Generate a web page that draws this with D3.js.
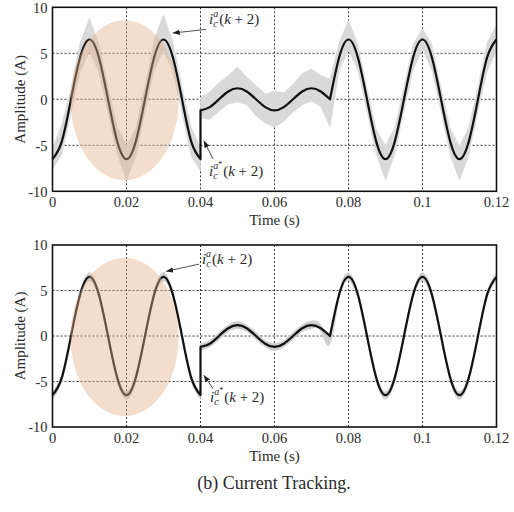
<!DOCTYPE html>
<html>
<head>
<meta charset="utf-8">
<script src="https://cdn.jsdelivr.net/npm/d3@7"></script>
<style>
  body { margin: 0; background: #fff; }
  svg text { font-family: "Liberation Serif", "DejaVu Serif", serif; fill: #2a2a2a; }
</style>
</head>
<body>
<div id="wrapper"></div>
<script>
// ---- data ----
const timeTicks = [0, 0.02, 0.04, 0.06, 0.08, 0.1, 0.12]
const timeTickLabels = ["0", "0.02", "0.04", "0.06", "0.08", "0.1", "0.12"]
const ampTicks = [-10, -5, 0, 5, 10]

// reference current i_c^{a*}(k+2), three pieces (step changes at 0.04 and 0.075 s)
const segTime1 = [0, 0.0025, 0.005, 0.0075, 0.01, 0.0125, 0.015, 0.0175, 0.02, 0.0225, 0.025, 0.0275, 0.03, 0.0325, 0.035, 0.0375, 0.04]
const segRef1 = [-6.5, -4.6, 0, 4.6, 6.5, 4.6, 0, -4.6, -6.5, -4.6, 0, 4.6, 6.5, 4.6, 0, -4.6, -6.5]
const segTime2 = [0.04, 0.0425, 0.045, 0.0475, 0.05, 0.0525, 0.055, 0.0575, 0.06, 0.0625, 0.065, 0.0675, 0.07, 0.0725, 0.075]
const segRef2 = [-1.2, -0.85, 0, 0.85, 1.2, 0.85, 0, -0.85, -1.2, -0.85, 0, 0.85, 1.2, 0.85, 0]
const segTime3 = [0.075, 0.0775, 0.08, 0.0825, 0.085, 0.0875, 0.09, 0.0925, 0.095, 0.0975, 0.1, 0.1025, 0.105, 0.1075, 0.11, 0.1125, 0.115, 0.1175, 0.12]
const segRef3 = [0, 4.6, 6.5, 4.6, 0, -4.6, -6.5, -4.6, 0, 4.6, 6.5, 4.6, 0, -4.6, -6.5, -4.6, 0, 4.6, 6.5]

// measured current i_c^a(k+2): envelope of the grey trace (0.04 appears twice: the step)
const measTime = [0, 0.0025, 0.005, 0.0075, 0.01, 0.0125, 0.015, 0.0175, 0.02, 0.0225, 0.025, 0.0275, 0.03, 0.0325, 0.035, 0.0375, 0.04,
  0.04, 0.0425, 0.045, 0.0475, 0.05, 0.0525, 0.055, 0.0575, 0.06, 0.0625, 0.065, 0.0675, 0.07, 0.0725, 0.075,
  0.0775, 0.08, 0.0825, 0.085, 0.0875, 0.09, 0.0925, 0.095, 0.0975, 0.1, 0.1025, 0.105, 0.1075, 0.11, 0.1125, 0.115, 0.1175, 0.12]
const measHiTop = [-5.3, -2.8, 1.2, 6.2, 8.8, 6.0, 1.3, -3.0, -5.0, -3.2, 1.4, 6.5, 9.2, 6.3, 1.4, -3.1, -5.2,
  0.2, 0.8, 1.8, 2.6, 3.5, 2.4, 1.5, 0.6, 0.9, 0.7, 1.6, 2.8, 3.3, 2.6, 2.2,
  6.2, 8.6, 6.0, 1.2, -3.3, -5.0, -3.1, 1.3, 6.0, 7.7, 6.0, 1.3, -3.2, -5.1, -3.0, 1.4, 6.2, 8.0]
const measLoTop = [-7.6, -6.0, -1.5, 3.0, 5.2, 3.0, -1.4, -6.0, -8.8, -6.2, -1.3, 3.2, 5.3, 3.1, -1.5, -6.2, -7.8,
  -2.0, -2.2, -1.3, -0.5, -0.3, -0.6, -1.8, -2.6, -3.0, -2.4, -1.4, -0.6, -0.2, -0.8, -3.0,
  3.2, 5.3, 3.2, -1.3, -6.0, -8.8, -6.0, -1.2, 3.3, 5.4, 3.2, -1.3, -6.1, -8.8, -6.1, -1.3, 3.1, 5.2]
const measHiBot = [-6.1, -4.2, 0.35, 4.95, 6.95, 4.95, 0.35, -4.2, -6.1, -4.2, 0.35, 4.95, 7.0, 4.95, 0.35, -4.25, -6.1,
  -0.8, -0.5, 0.4, 1.2, 1.6, 1.2, 0.4, -0.5, -0.8, -0.5, 0.4, 1.25, 1.65, 1.25, 0.45,
  4.95, 6.95, 4.95, 0.35, -4.2, -6.1, -4.2, 0.35, 4.95, 6.95, 4.95, 0.35, -4.2, -6.1, -4.2, 0.35, 4.95, 6.95]
const measLoBot = [-6.9, -5.0, -0.35, 4.2, 6.05, 4.2, -0.35, -5.0, -6.95, -5.0, -0.35, 4.2, 6.05, 4.2, -0.35, -5.0, -6.9,
  -1.6, -1.2, -0.4, 0.5, 0.8, 0.5, -0.4, -1.2, -1.6, -1.2, -0.4, 0.5, 0.8, 0.5, -0.9,
  4.2, 6.05, 4.2, -0.35, -5.0, -6.95, -5.0, -0.35, 4.2, 6.05, 4.2, -0.35, -5.0, -6.95, -5.0, -0.35, 4.2, 6.05]

// highlighted ellipse and annotation anchors (data units)
const ellipseCenter = [0.0195, -0.1]
const ellipseRadius = [0.0146, 8.7]
const labelMeasTop = { text: [0.0423, 8.2], from: [0.0415, 7.6], to: [0.0325, 7.2] }
const labelRefTop = { text: [0.0423, -8.3], from: [0.0434, -6.5], to: [0.0409, -4.5] }
const labelMeasBot = { text: [0.0404, 7.9], from: [0.0396, 7.9], to: [0.0307, 7.1] }
const labelRefBot = { text: [0.0426, -7.3], from: [0.0434, -5.8], to: [0.0409, -4.3] }

// ---- layout ----
const width = 514
const height = 512
const left = 52.5
const right = 496.5
const serif = '"Liberation Serif", "DejaVu Serif", serif'

const wrapper = d3.select("#wrapper")
  .append("svg")
  .attr("width", width)
  .attr("height", height)
  .attr("font-family", serif)

const defs = wrapper.append("defs")
defs.append("marker")
  .attr("id", "arrow")
  .attr("viewBox", "0 0 10 10")
  .attr("refX", 10).attr("refY", 5)
  .attr("markerWidth", 7).attr("markerHeight", 7)
  .attr("orient", "auto-start-reverse")
  .attr("markerUnits", "userSpaceOnUse")
  .append("path")
  .attr("d", "M0,1 L10,5 L0,9 Z")
  .attr("fill", "#222")

const xScaler = d3.scaleLinear().domain([0, 0.12]).range([left, right])

function mathLabel(g, pos, star, yScaler) {
  const t = g.append("text")
    .attr("x", xScaler(pos[0]))
    .attr("y", yScaler(pos[1]))
    .attr("font-size", "15px")
  t.append("tspan").attr("font-style", "italic").text("i")
  t.append("tspan").attr("font-style", "italic").attr("font-size", "10px").attr("dy", 3).text("c")
  t.append("tspan").attr("font-style", "italic").attr("font-size", "10px").attr("dx", -4.5).attr("dy", -10).text("a")
  if (star) t.append("tspan").attr("font-size", "8px").attr("dy", -2).text("*")
  t.append("tspan").attr("dy", star ? 9 : 7).attr("dx", 1).text("(")
  t.append("tspan").attr("font-style", "italic").text("k")
  t.append("tspan").text(" + 2)")
}

function drawPanel(top, bottom, hiArr, loArr, noisy, notes) {
  const yScaler = d3.scaleLinear().domain([-10, 10]).range([bottom, top])
  const g = wrapper.append("g")

  // grid
  g.append("g").selectAll("line")
    .data(timeTicks.slice(1, -1))
    .join("line")
    .attr("x1", d => xScaler(d)).attr("x2", d => xScaler(d))
    .attr("y1", top).attr("y2", bottom)
    .attr("stroke", "#222").attr("stroke-width", 0.9)
    .attr("stroke-dasharray", "2,2")
  g.append("g").selectAll("line")
    .data(ampTicks.slice(1, -1))
    .join("line")
    .attr("x1", left).attr("x2", right)
    .attr("y1", d => yScaler(d)).attr("y2", d => yScaler(d))
    .attr("stroke", "#222").attr("stroke-width", 0.9)
    .attr("stroke-dasharray", "2,2")

  // measured band, split at the repeated time stamp
  const rows = measTime.map((t, i) => ({ t, hi: hiArr[i], lo: loArr[i] }))
  const pieces = [[]]
  rows.forEach((r, i) => {
    if (i > 0 && r.t === rows[i - 1].t) pieces.push([])
    pieces[pieces.length - 1].push(r)
  })
  const band = d3.area()
    .x(d => xScaler(d.t))
    .y0(d => yScaler(d.lo))
    .y1(d => yScaler(d.hi))
    .curve(noisy ? d3.curveLinear : d3.curveNatural)
  const bandColor = noisy ? "#d9d9d9" : "#cfcfcf"
  g.append("g").selectAll("path")
    .data(pieces)
    .join("path")
    .attr("d", band)
    .attr("fill", bandColor)
    .attr("stroke", bandColor)
    .attr("stroke-width", 0.6)

  // reference line
  const line = d3.line()
    .x(d => xScaler(d[0]))
    .y(d => yScaler(d[1]))
    .curve(d3.curveNatural)
  const segs = [[segTime1, segRef1], [segTime2, segRef2], [segTime3, segRef3]]
  const refPath = segs
    .map(([ts, vs]) => line(ts.map((t, i) => [t, vs[i]])))
    .map((p, i) => i === 0 ? p : "L" + p.slice(1))
    .join("")
  g.append("path")
    .attr("d", refPath)
    .attr("fill", "none")
    .attr("stroke", "#111")
    .attr("stroke-width", 2.2)
    .attr("stroke-linejoin", "round")

  // highlight ellipse
  g.append("ellipse")
    .attr("cx", xScaler(ellipseCenter[0]))
    .attr("cy", yScaler(ellipseCenter[1]))
    .attr("rx", xScaler(ellipseCenter[0] + ellipseRadius[0]) - xScaler(ellipseCenter[0]))
    .attr("ry", yScaler(0) - yScaler(ellipseRadius[1]))
    .attr("fill", "#e3ae88")
    .attr("fill-opacity", 0.42)

  // frame
  g.append("rect")
    .attr("x", left).attr("y", top)
    .attr("width", right - left).attr("height", bottom - top)
    .attr("fill", "none").attr("stroke", "#111").attr("stroke-width", 1.6)

  // tick labels
  g.append("g").selectAll("text")
    .data(timeTicks)
    .join("text")
    .attr("x", d => xScaler(d))
    .attr("y", bottom + 15.5)
    .attr("text-anchor", "middle")
    .attr("font-size", "14.5px")
    .text((d, i) => timeTickLabels[i])
  g.append("g").selectAll("text")
    .data(ampTicks)
    .join("text")
    .attr("x", left - 5)
    .attr("y", d => yScaler(d))
    .attr("dy", "0.36em")
    .attr("text-anchor", "end")
    .attr("font-size", "14.5px")
    .text(d => d)

  g.append("text")
    .attr("transform", `translate(25, ${(top + bottom) / 2}) rotate(-90)`)
    .attr("text-anchor", "middle")
    .attr("font-size", "15px")
    .text("Amplitude (A)")
  g.append("text")
    .attr("x", (left + right) / 2)
    .attr("y", bottom + 34)
    .attr("text-anchor", "middle")
    .attr("font-size", "15px")
    .text("Time (s)")

  // annotations
  notes.forEach(n => {
    g.append("line")
      .attr("x1", xScaler(n.from[0])).attr("y1", yScaler(n.from[1]))
      .attr("x2", xScaler(n.to[0])).attr("y2", yScaler(n.to[1]))
      .attr("stroke", "#222").attr("stroke-width", 0.8)
      .attr("marker-end", "url(#arrow)")
    mathLabel(g, n.text, n.star, yScaler)
  })
}

drawPanel(7.3, 191.3, measHiTop, measLoTop, true,
  [{ ...labelMeasTop, star: false }, { ...labelRefTop, star: true }])
drawPanel(245, 427, measHiBot, measLoBot, false,
  [{ ...labelMeasBot, star: false }, { ...labelRefBot, star: true }])

wrapper.append("text")
  .attr("x", 274)
  .attr("y", 489)
  .attr("text-anchor", "middle")
  .attr("font-size", "18px")
  .text("(b) Current Tracking.")
</script>
</body>
</html>
